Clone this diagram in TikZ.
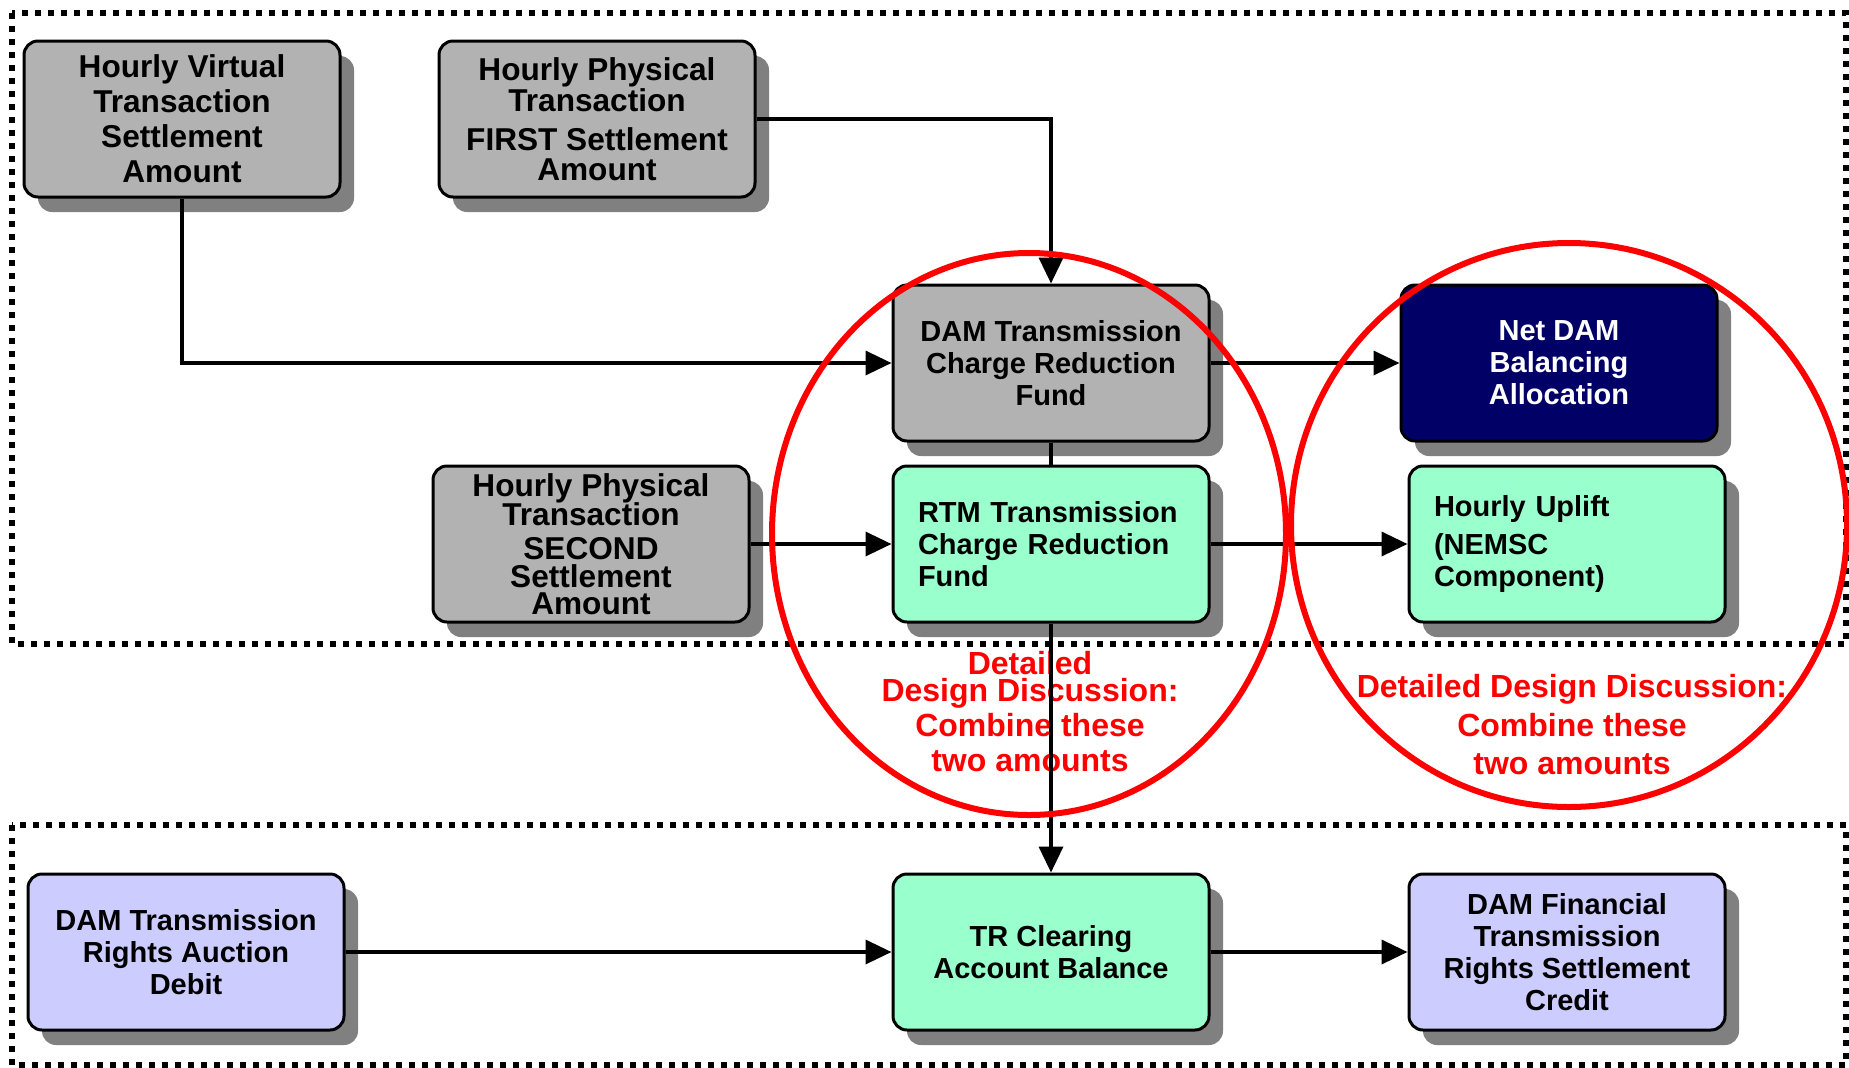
\documentclass[tikz,border=0pt]{standalone}
\usepackage{fontspec}
\setmainfont{Liberation Sans}
\usetikzlibrary{
    arrows.meta,
    positioning,
    calc,
    shadows
}
\definecolor{boxgray}{RGB}{178,178,178}
\definecolor{shadegray}{RGB}{128,128,128}
\definecolor{fundgreen}{RGB}{153,255,204}
\definecolor{navyblue}{RGB}{0,0,102}
\definecolor{lavender}{RGB}{204,204,255}

\begin{document}
\begin{tikzpicture}[
    x=0.5pt, y=-0.5pt,
    >={Triangle[length=13pt,width=12pt]},
    font=\fontsize{14.5}{16}\selectfont\bfseries,
    box/.style={
        draw,
        line width=1.5pt,
        rounded corners=7pt,
        align=center,
        inner xsep=4pt,
        inner ysep=1pt,
        minimum width=158pt,
        minimum height=78pt,
        drop shadow={shadow xshift=7pt, shadow yshift=-7.5pt,
            fill=shadegray, opacity=1}
    },
    big/.style={font=\fontsize{15.8}{17.5}\selectfont\bfseries},
    src/.style={box, fill=boxgray},
    fund/.style={box, fill=fundgreen},
    leftfund/.style={fund, align=left, text width=133pt, inner xsep=12.5pt},
    netbox/.style={box, fill=navyblue, text=white},
    trbox/.style={box, fill=lavender},
    arrow/.style={->, line width=1.8pt},
    zone/.style={line width=3pt, dash pattern=on 3pt off 3.5pt},
    ring/.style={red, line width=3pt},
    note/.style={text=red, align=center}
]

\useasboundingbox (0,0) rectangle (1849,1067);

% ============================================================
% ZONES
% ============================================================

\draw[zone] (12,13) rectangle (1846,644);
\draw[zone] (12,825) rectangle (1846,1065);

% ============================================================
% AMOUNTS AND FUNDS
% ============================================================

\node[src, big] (hvta) at (182,119) {
    Hourly Virtual\\Transaction\\Settlement\\Amount
};
\node[src, big] (hpfa) at (597,119) {
    Hourly Physical\\[-2pt]Transaction\\[2pt]FIRST Settlement\\[-2.5pt]Amount
};
\node[src] (damf) at (1051,363) {
    DAM Transmission\\Charge Reduction\\Fund
};
\node[netbox] (netdam) at (1559,363) {
    Net DAM\\Balancing\\Allocation
};
\node[src, big] (hpsa) at (591,544) {
    Hourly Physical\\[-3pt]Transaction\\[-0.5pt]SECOND\\[-3.5pt]Settlement\\[-4pt]Amount
};
\node[leftfund] (rtmf) at (1051,544) {
    RTM Transmission\\Charge Reduction\\Fund
};
\node[leftfund] (uplift) at (1567,544) {
    Hourly Uplift\\[3pt](NEMSC\\Component)
};

% ============================================================
% TR CLEARING
% ============================================================

\node[trbox] (trad) at (186,952) {
    DAM Transmission\\Rights Auction\\Debit
};
\node[fund] (trca) at (1051,952) {
    TR Clearing\\Account Balance
};
\node[trbox] (ftrs) at (1567,952) {
    DAM Financial\\Transmission\\Rights Settlement\\Credit
};

% notes
\node[note, font=\fontsize{16}{17.5}\selectfont\bfseries] (noteL) at (1030,712) {
    Detailed\\[-4pt]Design Discussion:\\Combine these\\two amounts
};
\node[note, font=\fontsize{16}{19.25}\selectfont\bfseries] (noteR) at (1572,725) {
    Detailed Design Discussion:\\Combine these\\two amounts
};

% ============================================================
% CONNECTORS
% ============================================================

\draw[arrow] (hvta.south) |- (damf.west);
\draw[arrow] (hpfa.east) -| (damf.north);
\draw[arrow] (damf.east) -- (netdam.west);
\draw[line width=1.8pt] (damf.south) -- (rtmf.north);
\draw[arrow] (hpsa.east) -- (rtmf.west);
\draw[arrow] (rtmf.east) -- (uplift.west);
\draw[arrow] (rtmf.south) -- (trca.north);
\draw[arrow] (trad.east) -- (trca.west);
\draw[arrow] (trca.east) -- (ftrs.west);

\draw[ring] (1029,534) ellipse [x radius=257, y radius=281];
\draw[ring] (1569,525) ellipse [x radius=278, y radius=282];

\end{tikzpicture}
\end{document}
